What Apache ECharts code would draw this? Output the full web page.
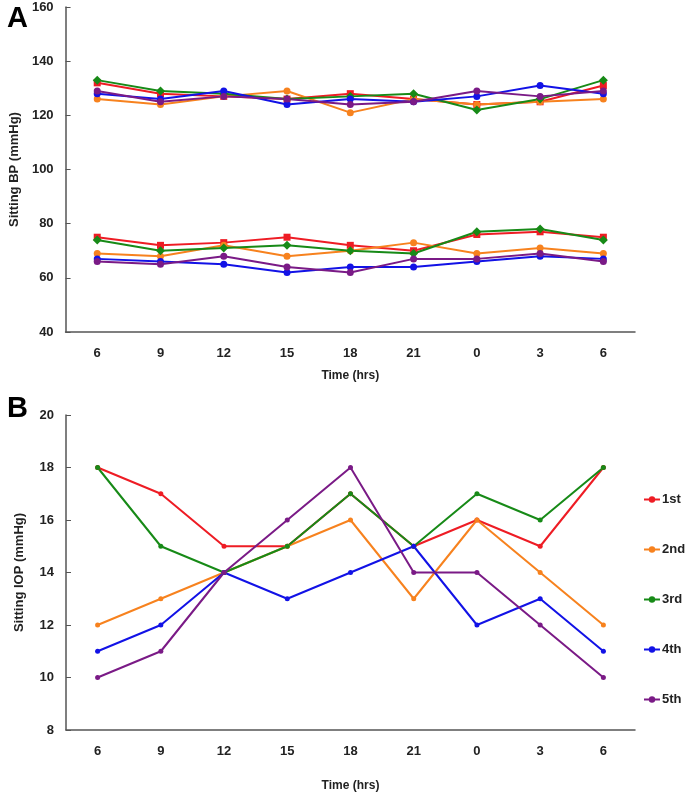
<!DOCTYPE html>
<html>
<head>
<meta charset="utf-8">
<script src="https://cdn.jsdelivr.net/npm/echarts@6/dist/echarts.min.js"></script>
<style>
  html, body { margin: 0; padding: 0; background: #fff; }
  #chart { width: 685px; height: 798px; }
</style>
</head>
<body>
<div id="chart"></div>
<script>
// time of day (hrs)
var times = ['6', '9', '12', '15', '18', '21', '0', '3', '6'];
var visitNames = ['1st', '2nd', '3rd', '4th', '5th'];
var colors = ['#ee1c24', '#f7821e', '#178a17', '#1212e6', '#7a1a86'];

// panel A: sitting BP, systolic
var sys1 = [132, 128, 127, 126, 128, 126, 124, 125, 131];
var sys2 = [126, 124, 127, 129, 121, 126, 124, 125, 126];
var sys3 = [133, 129, 128, 126, 127, 128, 122, 126, 133];
var sys4 = [128, 126, 129, 124, 126, 125, 127, 131, 128];
var sys5 = [129, 125, 127, 126, 124, 125, 129, 127, 129];

// panel A: sitting BP, diastolic
var dia1 = [75, 72, 73, 75, 72, 70, 76, 77, 75];
var dia2 = [69, 68, 72, 68, 70, 73, 69, 71, 69];
var dia3 = [74, 70, 71, 72, 70, 69, 77, 78, 74];
var dia4 = [67, 66, 65, 62, 64, 64, 66, 68, 67];
var dia5 = [66, 65, 68, 64, 62, 67, 67, 69, 66];

// panel B: sitting IOP
var iop1 = [18, 17, 15, 15, 17, 15, 16, 15, 18];
var iop2 = [12, 13, 14, 15, 16, 13, 16, 14, 12];
var iop3 = [18, 15, 14, 15, 17, 15, 17, 16, 18];
var iop4 = [11, 12, 14, 13, 14, 15, 12, 13, 11];
var iop5 = [10, 11, 14, 16, 18, 14, 14, 12, 10];

var bpSymbols = ['rect', 'circle', 'diamond', 'circle', 'circle'];
var sysData = [sys1, sys2, sys3, sys4, sys5];
var diaData = [dia1, dia2, dia3, dia4, dia5];
var iopData = [iop1, iop2, iop3, iop4, iop5];

var font = 'Liberation Sans, Arial, sans-serif';
var axisColor = '#555';

function xAxisOf(gridIndex, nameGap) {
	return {
		type: 'category',
		gridIndex: gridIndex,
		data: times,
		boundaryGap: true,
		name: 'Time (hrs)',
		nameLocation: 'middle',
		nameGap: nameGap,
		nameTextStyle: { fontFamily: font, fontWeight: 'bold', fontSize: 12, color: '#222' },
		axisLine: { lineStyle: { color: axisColor, width: 1.5 } },
		axisTick: { inside: true, length: 5, lineStyle: { color: axisColor } },
		axisLabel: { margin: 15, fontFamily: font, fontWeight: 'bold', fontSize: 13, color: '#222' },
		splitLine: { show: false }
	};
}

function yAxisOf(gridIndex, name, min, max, interval) {
	return {
		type: 'value',
		gridIndex: gridIndex,
		min: min,
		max: max,
		interval: interval,
		name: name,
		nameLocation: 'middle',
		nameGap: 40,
		nameTextStyle: { fontFamily: font, fontWeight: 'bold', fontSize: 13, color: '#222' },
		axisLine: { show: true, lineStyle: { color: axisColor, width: 1.5 } },
		axisTick: { show: true, inside: true, length: 5, lineStyle: { color: axisColor } },
		axisLabel: { margin: 12, fontFamily: font, fontWeight: 'bold', fontSize: 13, color: '#222' },
		splitLine: { show: false }
	};
}

var series = [];
for (var i = 0; i < 5; i++) {
	var bpLine = {
		type: 'line',
		xAxisIndex: 0,
		yAxisIndex: 0,
		symbol: bpSymbols[i],
		symbolSize: bpSymbols[i] === 'diamond' ? 9 : 7,
		lineStyle: { color: colors[i], width: 2 },
		itemStyle: { color: colors[i] },
		animation: false
	};
	series.push(Object.assign({}, bpLine, { name: 'sys' + i, data: sysData[i] }));
	series.push(Object.assign({}, bpLine, { name: 'dia' + i, data: diaData[i] }));
}
for (var j = 0; j < 5; j++) {
	series.push({
		type: 'line',
		name: visitNames[j],
		xAxisIndex: 1,
		yAxisIndex: 1,
		data: iopData[j],
		symbol: 'circle',
		symbolSize: 5,
		lineStyle: { color: colors[j], width: 2 },
		itemStyle: { color: colors[j] },
		animation: false
	});
}

var option = {
	backgroundColor: '#fff',
	grid: [
		{ left: 64, top: 7, width: 571, height: 325 },
		{ left: 66, top: 415, width: 569, height: 315 }
	],
	xAxis: [xAxisOf(0, 38), xAxisOf(1, 50)],
	yAxis: [
		yAxisOf(0, 'Sitting BP (mmHg)', 40, 160, 20),
		yAxisOf(1, 'Sitting IOP (mmHg)', 8, 20, 2)
	],
	legend: {
		data: visitNames,
		orient: 'vertical',
		left: 638,
		top: 488,
		itemGap: 37,
		itemWidth: 16,
		itemHeight: 8,
		textStyle: { fontFamily: font, fontWeight: 'bold', fontSize: 13, color: '#222', padding: [0, 0, 0, -3] }
	},
	graphic: [
		{ type: 'text', left: 7, top: 4, style: { text: 'A', font: 'bold 29px ' + font, fill: '#000' } },
		{ type: 'text', left: 7, top: 394, style: { text: 'B', font: 'bold 29px ' + font, fill: '#000' } }
	],
	series: series
};

var chart = echarts.init(document.getElementById('chart'));
chart.setOption(option);
</script>
</body>
</html>
